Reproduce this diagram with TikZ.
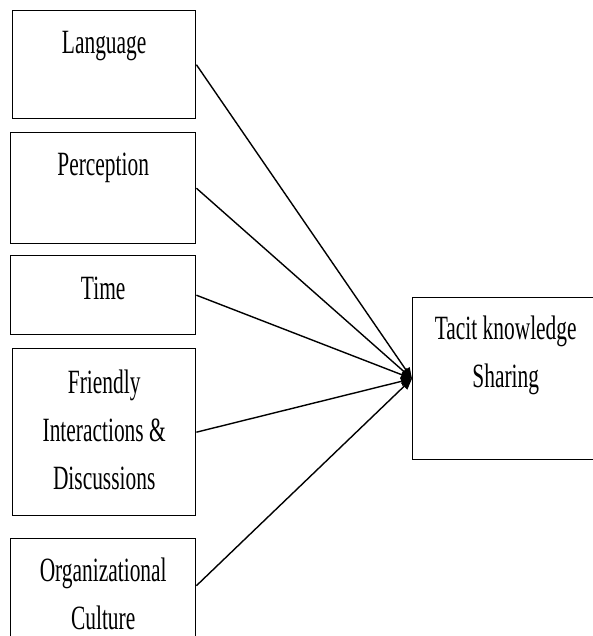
\documentclass[tikz,border=0pt]{standalone}
\usepackage{fontspec}
\setmainfont{Liberation Serif}
\usepackage{graphicx}
\usetikzlibrary{arrows.meta,positioning}

\newcommand{\squash}[1]{\scalebox{0.63}[1]{\begin{tabular}{@{}c@{}}#1\end{tabular}}}

\tikzset{
  box/.style={draw, line width=1.4pt, rectangle, anchor=north west, inner sep=0pt},
  txt/.style={font=\fontsize{34}{48}\selectfont, inner sep=0pt, anchor=north},
  link/.style={line width=1.4pt, -{Triangle[length=11pt,width=9pt]}}
}

\begin{document}
\begin{tikzpicture}[x=1pt,y=-1pt]
\useasboundingbox (0,0) rectangle (593,636);
\clip (0,0) rectangle (593,636);

\node [box, minimum width=183pt, minimum height=108pt] (lang) at (12,10) {};
\node [box, minimum width=185pt, minimum height=111pt] (perc) at (10,132) {};
\node [box, minimum width=185pt, minimum height=79pt] (time) at (10,255) {};
\node [box, minimum width=183pt, minimum height=167pt] (friend) at (12,348) {};
\node [box, minimum width=185pt, minimum height=120pt] (org) at (10,538) {};

\node [box, minimum width=186pt, minimum height=162pt] (tacit) at (412,297) {};

% labels sit at the top of each box
\node [txt, below=10pt of lang.north] (langtxt) {\squash{Language}};
\node [txt, below=10pt of perc.north] (perctxt) {\squash{Perception}};
\node [txt, below=11pt of time.north] (timetxt) {\squash{Time}};
\node [txt, below=12pt of friend.north] (friendtxt) {\squash{Friendly\\Interactions \&\\Discussions}};
\node [txt, below=10pt of org.north] (orgtxt) {\squash{Organizational\\Culture}};
\node [txt, below=9pt of tacit.north] (tacittxt) {\squash{Tacit knowledge\\Sharing}};

\draw [link] (lang.east) -- (tacit.west);
\draw [link] (perc.east) -- (tacit.west);
\draw [link] (time.east) -- (tacit.west);
\draw [link] (friend.east) -- (tacit.west);
\draw [link] ([yshift=13pt]org.east) -- (tacit.west);
\end{tikzpicture}
\end{document}
